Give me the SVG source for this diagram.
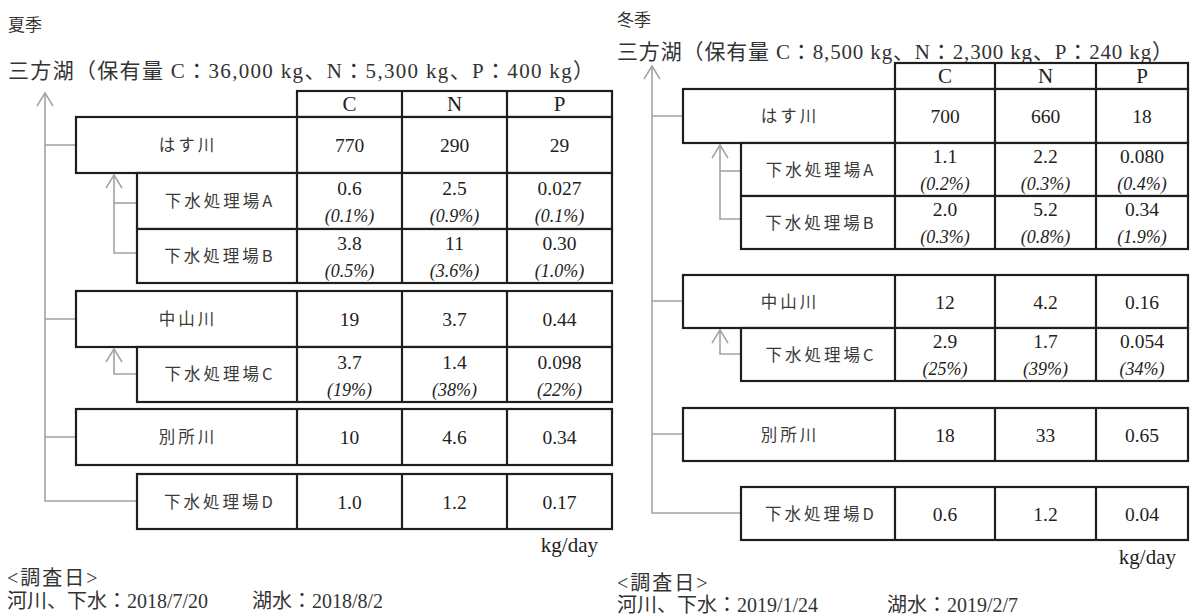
<svg xmlns="http://www.w3.org/2000/svg" width="1190" height="616" viewBox="0 0 1190 616">
<defs>
<marker id="arr" markerUnits="userSpaceOnUse" markerWidth="16" markerHeight="20" viewBox="0 0 16 20" refX="14" refY="10" orient="auto">
<path d="M1,2 L14,10 L1,18" fill="none" stroke="#a3a3a3" stroke-width="1.5"/>
</marker>
<style>
.cell{fill:#fff;stroke:#1e1e1e;stroke-width:2.2}
.col{stroke:#1e1e1e;stroke-width:2.2}
.tree{fill:none;stroke:#a3a3a3;stroke-width:1.6}
.lbl{font-family:"Noto Sans CJK JP",sans-serif;font-size:16.5px;letter-spacing:3px;fill:#3a3a3a;text-anchor:middle}
.val{font-family:"Liberation Serif",serif;font-size:19.5px;fill:#222;text-anchor:middle}
.pct{font-family:"Liberation Serif",serif;font-size:18px;font-style:italic;fill:#222;text-anchor:middle}
.hd{font-family:"Liberation Serif",serif;font-size:21px;fill:#222;text-anchor:middle}
.ttl{font-family:"Liberation Serif","Noto Sans CJK JP",serif;font-size:21px;fill:#333}
.sea{font-family:"Noto Sans CJK JP",sans-serif;font-size:17px;fill:#333}
.ft{font-family:"Liberation Serif","Noto Sans CJK JP",serif;font-size:20px;fill:#333}
.unit{font-family:"Liberation Serif",serif;font-size:21px;fill:#222;text-anchor:end}
</style>
</defs>

<!-- Summer panel -->
<text class="sea" x="8" y="31">夏季</text>
<text class="ttl" x="8" y="78" textLength="586" lengthAdjust="spacing">三方湖（保有量 C：36,000 kg、N：5,300 kg、P：400 kg）</text>

<g id="s-connectors">
<path class="tree" d="M137,501 H45 V93" marker-end="url(#arr)"/>
<path class="tree" d="M45,145 H76 M45,319 H76 M45,437 H76"/>
<path class="tree" d="M137,253 H114 V175" marker-end="url(#arr)"/>
<path class="tree" d="M114,203 H137"/>
<path class="tree" d="M137,374 H114 V349" marker-end="url(#arr)"/>
</g>

<g id="s-header">
<rect class="cell" x="297" y="91" width="315" height="26"/>
<path class="col" d="M402,91 V117 M507,91 V117"/>
<text class="hd" x="349.5" y="111">C</text><text class="hd" x="454.5" y="111">N</text><text class="hd" x="559.5" y="111">P</text>
</g>
<g id="s-hasu">
<rect class="cell" x="76" y="117" width="536" height="56"/>
<path class="col" d="M297,117 V173 M402,117 V173 M507,117 V173"/>
<text class="lbl" x="188" y="151">はす川</text>
<text class="val" x="349.5" y="152">770</text><text class="val" x="454.5" y="152">290</text><text class="val" x="559.5" y="152">29</text>
</g>
<g id="s-A">
<rect class="cell" x="137" y="173" width="475" height="56"/>
<path class="col" d="M297,173 V229 M402,173 V229 M507,173 V229"/>
<text class="lbl" x="220" y="207">下水処理場A</text>
<text class="val" x="349.5" y="195">0.6</text><text class="val" x="454.5" y="195">2.5</text><text class="val" x="559.5" y="195">0.027</text>
<text class="pct" x="349.5" y="222">(0.1%)</text><text class="pct" x="454.5" y="222">(0.9%)</text><text class="pct" x="559.5" y="222">(0.1%)</text>
</g>
<g id="s-B">
<rect class="cell" x="137" y="229" width="475" height="54"/>
<path class="col" d="M297,229 V283 M402,229 V283 M507,229 V283"/>
<text class="lbl" x="220" y="262">下水処理場B</text>
<text class="val" x="349.5" y="250">3.8</text><text class="val" x="454.5" y="250">11</text><text class="val" x="559.5" y="250">0.30</text>
<text class="pct" x="349.5" y="277">(0.5%)</text><text class="pct" x="454.5" y="277">(3.6%)</text><text class="pct" x="559.5" y="277">(1.0%)</text>
</g>
<g id="s-naka">
<rect class="cell" x="76" y="291" width="536" height="56"/>
<path class="col" d="M297,291 V347 M402,291 V347 M507,291 V347"/>
<text class="lbl" x="188" y="325">中山川</text>
<text class="val" x="349.5" y="326">19</text><text class="val" x="454.5" y="326">3.7</text><text class="val" x="559.5" y="326">0.44</text>
</g>
<g id="s-C">
<rect class="cell" x="137" y="347" width="475" height="55"/>
<path class="col" d="M297,347 V402 M402,347 V402 M507,347 V402"/>
<text class="lbl" x="220" y="380">下水処理場C</text>
<text class="val" x="349.5" y="369">3.7</text><text class="val" x="454.5" y="369">1.4</text><text class="val" x="559.5" y="369">0.098</text>
<text class="pct" x="349.5" y="396">(19%)</text><text class="pct" x="454.5" y="396">(38%)</text><text class="pct" x="559.5" y="396">(22%)</text>
</g>
<g id="s-bessho">
<rect class="cell" x="76" y="409" width="536" height="56"/>
<path class="col" d="M297,409 V465 M402,409 V465 M507,409 V465"/>
<text class="lbl" x="188" y="443">別所川</text>
<text class="val" x="349.5" y="444">10</text><text class="val" x="454.5" y="444">4.6</text><text class="val" x="559.5" y="444">0.34</text>
</g>
<g id="s-D">
<rect class="cell" x="137" y="474" width="475" height="55"/>
<path class="col" d="M297,474 V529 M402,474 V529 M507,474 V529"/>
<text class="lbl" x="220" y="508">下水処理場D</text>
<text class="val" x="349.5" y="509">1.0</text><text class="val" x="454.5" y="509">1.2</text><text class="val" x="559.5" y="509">0.17</text>
</g>
<text class="unit" x="598" y="552">kg/day</text>
<text class="ft" x="7" y="585" letter-spacing="2">&lt;調査日&gt;</text>
<text class="ft" x="7" y="608">河川、下水：2018/7/20</text>
<text class="ft" x="252" y="608">湖水：2018/8/2</text>

<!-- Winter panel -->
<text class="sea" x="617" y="26">冬季</text>
<text class="ttl" x="617" y="59" textLength="556" lengthAdjust="spacing">三方湖（保有量 C：8,500 kg、N：2,300 kg、P：240 kg）</text>

<g id="w-connectors">
<path class="tree" d="M741,513 H652 V66" marker-end="url(#arr)"/>
<path class="tree" d="M652,116 H683 M652,301 H683 M652,434 H683"/>
<path class="tree" d="M741,219 H720 V145" marker-end="url(#arr)"/>
<path class="tree" d="M720,171 H741"/>
<path class="tree" d="M741,354 H720 V330" marker-end="url(#arr)"/>
</g>

<g id="w-header">
<rect class="cell" x="895" y="63" width="293" height="26"/>
<path class="col" d="M995,63 V89 M1096,63 V89"/>
<text class="hd" x="945" y="83">C</text><text class="hd" x="1045.5" y="83">N</text><text class="hd" x="1142" y="83">P</text>
</g>
<g id="w-hasu">
<rect class="cell" x="683" y="89" width="505" height="54"/>
<path class="col" d="M895,89 V143 M995,89 V143 M1096,89 V143"/>
<text class="lbl" x="790" y="122">はす川</text>
<text class="val" x="945" y="123">700</text><text class="val" x="1045.5" y="123">660</text><text class="val" x="1142" y="123">18</text>
</g>
<g id="w-A">
<rect class="cell" x="741" y="143" width="447" height="53"/>
<path class="col" d="M895,143 V196 M995,143 V196 M1096,143 V196"/>
<text class="lbl" x="821" y="176">下水処理場A</text>
<text class="val" x="945" y="163">1.1</text><text class="val" x="1045.5" y="163">2.2</text><text class="val" x="1142" y="163">0.080</text>
<text class="pct" x="945" y="190">(0.2%)</text><text class="pct" x="1045.5" y="190">(0.3%)</text><text class="pct" x="1142" y="190">(0.4%)</text>
</g>
<g id="w-B">
<rect class="cell" x="741" y="196" width="447" height="53"/>
<path class="col" d="M895,196 V249 M995,196 V249 M1096,196 V249"/>
<text class="lbl" x="821" y="229">下水処理場B</text>
<text class="val" x="945" y="216">2.0</text><text class="val" x="1045.5" y="216">5.2</text><text class="val" x="1142" y="216">0.34</text>
<text class="pct" x="945" y="243">(0.3%)</text><text class="pct" x="1045.5" y="243">(0.8%)</text><text class="pct" x="1142" y="243">(1.9%)</text>
</g>
<g id="w-naka">
<rect class="cell" x="683" y="275" width="505" height="53"/>
<path class="col" d="M895,275 V328 M995,275 V328 M1096,275 V328"/>
<text class="lbl" x="790" y="308">中山川</text>
<text class="val" x="945" y="309">12</text><text class="val" x="1045.5" y="309">4.2</text><text class="val" x="1142" y="309">0.16</text>
</g>
<g id="w-C">
<rect class="cell" x="741" y="328" width="447" height="53"/>
<path class="col" d="M895,328 V381 M995,328 V381 M1096,328 V381"/>
<text class="lbl" x="821" y="361">下水処理場C</text>
<text class="val" x="945" y="348">2.9</text><text class="val" x="1045.5" y="348">1.7</text><text class="val" x="1142" y="348">0.054</text>
<text class="pct" x="945" y="375">(25%)</text><text class="pct" x="1045.5" y="375">(39%)</text><text class="pct" x="1142" y="375">(34%)</text>
</g>
<g id="w-bessho">
<rect class="cell" x="683" y="408" width="505" height="53"/>
<path class="col" d="M895,408 V461 M995,408 V461 M1096,408 V461"/>
<text class="lbl" x="790" y="441">別所川</text>
<text class="val" x="945" y="442">18</text><text class="val" x="1045.5" y="442">33</text><text class="val" x="1142" y="442">0.65</text>
</g>
<g id="w-D">
<rect class="cell" x="741" y="487" width="447" height="53"/>
<path class="col" d="M895,487 V540 M995,487 V540 M1096,487 V540"/>
<text class="lbl" x="821" y="520">下水処理場D</text>
<text class="val" x="945" y="521">0.6</text><text class="val" x="1045.5" y="521">1.2</text><text class="val" x="1142" y="521">0.04</text>
</g>
<text class="unit" x="1176" y="564">kg/day</text>
<text class="ft" x="617" y="590" letter-spacing="2">&lt;調査日&gt;</text>
<text class="ft" x="617" y="612">河川、下水：2019/1/24</text>
<text class="ft" x="887" y="612">湖水：2019/2/7</text>
</svg>
